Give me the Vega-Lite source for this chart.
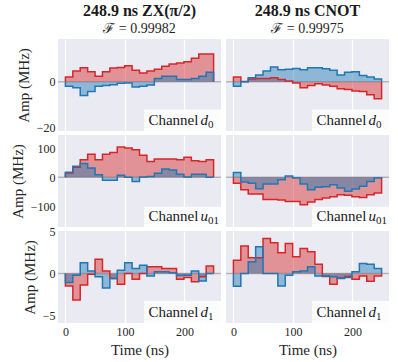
{
"$schema": "https://vega.github.io/schema/vega-lite/v6.json",
"padding": {"left": 10, "right": 5, "top": 3, "bottom": 4},
"bounds": "flush",
"columns": 2,
"spacing": {"row": 4, "column": 5},
"data": {"values": [
{"i":0,"t":0,"zd0r":0,"zd0i":0,"cd0r":0,"cd0i":0,"zur":0,"zui":0,"cur":0,"cui":0,"zd1r":0,"zd1i":0,"cd1r":0,"cd1i":0},
{"i":1,"t":0,"zd0r":2.0,"zd0i":-2.0,"cd0r":2.0,"cd0i":-2.0,"zur":15,"zui":18,"cur":-20,"cui":17,"zd1r":-1.5,"zd1i":-1.1,"cd1r":1.6,"cd1i":-1.55},
{"i":2,"t":12.45,"zd0r":4.6,"zd0i":-2.6,"cd0r":0.0,"cd0i":0.1,"zur":35,"zui":38,"cur":-43,"cui":-16,"zd1r":-3.2,"zd1i":-0.2,"cd1r":3.3,"cd1i":0.0},
{"i":3,"t":24.89,"zd0r":6.0,"zd0i":-6.0,"cd0r":1.1,"cd0i":1.7,"zur":61,"zui":48,"cur":-57,"cui":-20,"zd1r":-1.4,"zd1i":1.3,"cd1r":1.9,"cd1i":1.4},
{"i":4,"t":37.34,"zd0r":4.3,"zd0i":-4.3,"cd0r":1.4,"cd0i":2.9,"zur":80,"zui":32,"cur":-57,"cui":-39,"zd1r":-0.1,"zd1i":0.3,"cd1r":1.9,"cd1i":3.2},
{"i":5,"t":49.78,"zd0r":2.3,"zd0i":-2.0,"cd0r":1.4,"cd0i":4.6,"zur":61,"zui":9,"cur":-76,"cui":-23,"zd1r":1.7,"zd1i":-0.4,"cd1r":4.2,"cd1i":0.0},
{"i":6,"t":62.23,"zd0r":4.3,"zd0i":-1.7,"cd0r":1.7,"cd0i":6.3,"zur":80,"zui":-10,"cur":-76,"cui":-23,"zd1r":0.3,"zd1i":-1.75,"cd1r":3.7,"cd1i":0.0},
{"i":7,"t":74.67,"zd0r":5.9,"zd0i":-1.3,"cd0r":0.9,"cd0i":5.1,"zur":86,"zui":-10,"cur":-78,"cui":-8,"zd1r":-0.6,"zd1i":-0.6,"cd1r":2.5,"cd1i":-1.5},
{"i":8,"t":87.12,"zd0r":6.1,"zd0i":-0.7,"cd0r":0.3,"cd0i":5.4,"zur":105,"zui":7,"cur":-83,"cui":5,"zd1r":-1.3,"zd1i":0.4,"cd1r":3.6,"cd1i":-0.2},
{"i":9,"t":99.56,"zd0r":6.9,"zd0i":-0.6,"cd0r":-0.6,"cd0i":5.7,"zur":101,"zui":0,"cur":-83,"cui":-2,"zd1r":0.0,"zd1i":1.3,"cd1r":2.0,"cd1i":0.2},
{"i":10,"t":112.01,"zd0r":4.9,"zd0i":-2.3,"cd0r":-2.6,"cd0i":5.1,"zur":95,"zui":-14,"cur":-94,"cui":-23,"zd1r":-0.7,"zd1i":0.6,"cd1r":3.0,"cd1i":0.3},
{"i":11,"t":124.45,"zd0r":3.7,"zd0i":-2.0,"cd0r":-1.7,"cd0i":6.0,"zur":76,"zui":1,"cur":-85,"cui":-43,"zd1r":0.0,"zd1i":1.0,"cd1r":2.6,"cd1i":0.8},
{"i":12,"t":136.9,"zd0r":4.6,"zd0i":-1.4,"cd0r":-0.9,"cd0i":6.0,"zur":55,"zui":3,"cur":-76,"cui":-34,"zd1r":0.8,"zd1i":-0.3,"cd1r":1.1,"cd1i":-0.3},
{"i":13,"t":149.34,"zd0r":5.4,"zd0i":1.4,"cd0r":-1.4,"cd0i":5.6,"zur":63,"zui":14,"cur":-71,"cui":-32,"zd1r":0.8,"zd1i":0.2,"cd1r":-0.35,"cd1i":-0.3},
{"i":14,"t":161.79,"zd0r":6.6,"zd0i":2.3,"cd0r":-2.0,"cd0i":4.9,"zur":63,"zui":29,"cur":-67,"cui":-25,"zd1r":0.6,"zd1i":0.2,"cd1r":-1.3,"cd1i":-0.4},
{"i":15,"t":174.23,"zd0r":7.6,"zd0i":2.3,"cd0r":-3.1,"cd0i":2.9,"zur":63,"zui":25,"cur":-60,"cui":-37,"zd1r":0.6,"zd1i":0.1,"cd1r":-0.55,"cd1i":-0.6},
{"i":16,"t":186.68,"zd0r":8.0,"zd0i":0.9,"cd0r":-3.4,"cd0i":4.0,"zur":61,"zui":11,"cur":-62,"cui":-48,"zd1r":-0.7,"zd1i":-0.25,"cd1r":-0.35,"cd1i":-0.5},
{"i":17,"t":199.12,"zd0r":8.6,"zd0i":0.9,"cd0r":-4.0,"cd0i":4.3,"zur":69,"zui":1,"cur":-67,"cui":-40,"zd1r":-0.5,"zd1i":-0.2,"cd1r":-0.7,"cd1i":0.2},
{"i":18,"t":211.57,"zd0r":10.1,"zd0i":1.4,"cd0r":-4.3,"cd0i":2.6,"zur":57,"zui":11,"cur":-69,"cui":-31,"zd1r":-1.0,"zd1i":0.3,"cd1r":-0.3,"cd1i":1.2},
{"i":19,"t":224.01,"zd0r":11.9,"zd0i":2.3,"cd0r":-5.7,"cd0i":2.0,"zur":55,"zui":11,"cur":-60,"cui":-14,"zd1r":-0.4,"zd1i":-0.9,"cd1r":-0.95,"cd1i":1.1},
{"i":20,"t":236.46,"zd0r":11.9,"zd0i":4.0,"cd0r":-7.4,"cd0i":1.1,"zur":61,"zui":0,"cur":-54,"cui":-2,"zd1r":0.9,"zd1i":0.0,"cd1r":-0.3,"cd1i":0.6},
{"i":21,"t":248.9,"zd0r":11.9,"zd0i":4.0,"cd0r":-7.4,"cd0i":1.1,"zur":61,"zui":0,"cur":-54,"cui":-2,"zd1r":0.9,"zd1i":0.0,"cd1r":-0.3,"cd1i":0.6},
{"i":22,"t":248.9,"zd0r":0,"zd0i":0,"cd0r":0,"cd0i":0,"zur":0,"zui":0,"cur":0,"cui":0,"zd1r":0,"zd1i":0,"cd1r":0,"cd1i":0}
]},
"concat": [
{"width":163,"height":92,"title":{"text":"248.9 ns ZX(π/2)","subtitle":"ℱ = 0.99982"},"layer":[
{"transform":[{"filter":"datum.i == 0"}],"mark":{"type":"rule","color":"#b4b4b8","strokeWidth":1.5},"encoding":{"y":{"datum":0,"type":"quantitative","scale":{"domain":[-21.3,18.4],"nice":false,"zero":false},"axis":{"values":[-20,0],"title":"Amp (MHz)"}}}},
{"transform":[{"filter":"datum.i >= 1 && datum.i <= 21"}],"mark":{"type":"area","interpolate":"step-after","color":"#d62728","fillOpacity":0.45},"encoding":{"x":{"field":"t","type":"quantitative","scale":{"domain":[-12.45,261.35],"nice":false,"zero":false},"axis":{"values":[0,100,200],"labels":false,"title":null}},"y":{"field":"zd0r","type":"quantitative","stack":null},"y2":{"datum":0}}},
{"transform":[{"filter":"datum.i >= 1 && datum.i <= 21"}],"mark":{"type":"area","interpolate":"step-after","color":"#1f77b4","fillOpacity":0.45},"encoding":{"x":{"field":"t","type":"quantitative"},"y":{"field":"zd0i","type":"quantitative","stack":null},"y2":{"datum":0}}},
{"mark":{"type":"line","interpolate":"step-after","color":"#d62728","strokeWidth":1.5},"encoding":{"x":{"field":"t","type":"quantitative"},"y":{"field":"zd0r","type":"quantitative"},"order":{"field":"i"}}},
{"mark":{"type":"line","interpolate":"step-after","color":"#1f77b4","strokeWidth":1.5},"encoding":{"x":{"field":"t","type":"quantitative"},"y":{"field":"zd0i","type":"quantitative"},"order":{"field":"i"}}},
{"transform":[{"filter":"datum.i == 0"}],"mark":{"type":"rect","color":"#ffffff","opacity":0.85},"encoding":{"x":{"datum":132},"x2":{"datum":261.35},"y":{"datum":-21.3},"y2":{"datum":-12.0}}},
{"transform":[{"filter":"datum.i == 0"}],"mark":{"type":"text","text":"Channel","align":"left","baseline":"alphabetic","dy":-6,"fontSize":15,"color":"#1a1a1a"},"encoding":{"x":{"datum":139.5},"y":{"datum":-21.3}}},
{"transform":[{"filter":"datum.i == 0"}],"mark":{"type":"text","text":"d","align":"left","baseline":"alphabetic","dx":52,"dy":-6,"fontSize":15,"fontStyle":"italic","color":"#1a1a1a"},"encoding":{"x":{"datum":139.5},"y":{"datum":-21.3}}},
{"transform":[{"filter":"datum.i == 0"}],"mark":{"type":"text","text":"0","align":"left","baseline":"alphabetic","dx":59.5,"dy":-3.5,"fontSize":11,"color":"#1a1a1a"},"encoding":{"x":{"datum":139.5},"y":{"datum":-21.3}}}
]},
{"width":163,"height":92,"title":{"text":"248.9 ns CNOT","subtitle":"ℱ = 0.99975"},"layer":[
{"transform":[{"filter":"datum.i == 0"}],"mark":{"type":"rule","color":"#b4b4b8","strokeWidth":1.5},"encoding":{"y":{"datum":0,"type":"quantitative","scale":{"domain":[-21.3,18.4],"nice":false,"zero":false},"axis":{"values":[-20,0],"labels":false,"title":null}}}},
{"transform":[{"filter":"datum.i >= 1 && datum.i <= 21"}],"mark":{"type":"area","interpolate":"step-after","color":"#d62728","fillOpacity":0.45},"encoding":{"x":{"field":"t","type":"quantitative","scale":{"domain":[-12.45,261.35],"nice":false,"zero":false},"axis":{"values":[0,100,200],"labels":false,"title":null}},"y":{"field":"cd0r","type":"quantitative","stack":null},"y2":{"datum":0}}},
{"transform":[{"filter":"datum.i >= 1 && datum.i <= 21"}],"mark":{"type":"area","interpolate":"step-after","color":"#1f77b4","fillOpacity":0.45},"encoding":{"x":{"field":"t","type":"quantitative"},"y":{"field":"cd0i","type":"quantitative","stack":null},"y2":{"datum":0}}},
{"mark":{"type":"line","interpolate":"step-after","color":"#d62728","strokeWidth":1.5},"encoding":{"x":{"field":"t","type":"quantitative"},"y":{"field":"cd0r","type":"quantitative"},"order":{"field":"i"}}},
{"mark":{"type":"line","interpolate":"step-after","color":"#1f77b4","strokeWidth":1.5},"encoding":{"x":{"field":"t","type":"quantitative"},"y":{"field":"cd0i","type":"quantitative"},"order":{"field":"i"}}},
{"transform":[{"filter":"datum.i == 0"}],"mark":{"type":"rect","color":"#ffffff","opacity":0.85},"encoding":{"x":{"datum":132},"x2":{"datum":261.35},"y":{"datum":-21.3},"y2":{"datum":-12.0}}},
{"transform":[{"filter":"datum.i == 0"}],"mark":{"type":"text","text":"Channel","align":"left","baseline":"alphabetic","dy":-6,"fontSize":15,"color":"#1a1a1a"},"encoding":{"x":{"datum":139.5},"y":{"datum":-21.3}}},
{"transform":[{"filter":"datum.i == 0"}],"mark":{"type":"text","text":"d","align":"left","baseline":"alphabetic","dx":52,"dy":-6,"fontSize":15,"fontStyle":"italic","color":"#1a1a1a"},"encoding":{"x":{"datum":139.5},"y":{"datum":-21.3}}},
{"transform":[{"filter":"datum.i == 0"}],"mark":{"type":"text","text":"0","align":"left","baseline":"alphabetic","dx":59.5,"dy":-3.5,"fontSize":11,"color":"#1a1a1a"},"encoding":{"x":{"datum":139.5},"y":{"datum":-21.3}}}
]},
{"width":163,"height":92,"layer":[
{"transform":[{"filter":"datum.i == 0"}],"mark":{"type":"rule","color":"#b4b4b8","strokeWidth":1.5},"encoding":{"y":{"datum":0,"type":"quantitative","scale":{"domain":[-171,146],"nice":false,"zero":false},"axis":{"values":[-100,0,100],"title":"Amp (MHz)"}}}},
{"transform":[{"filter":"datum.i >= 1 && datum.i <= 21"}],"mark":{"type":"area","interpolate":"step-after","color":"#d62728","fillOpacity":0.45},"encoding":{"x":{"field":"t","type":"quantitative","scale":{"domain":[-12.45,261.35],"nice":false,"zero":false},"axis":{"values":[0,100,200],"labels":false,"title":null}},"y":{"field":"zur","type":"quantitative","stack":null},"y2":{"datum":0}}},
{"transform":[{"filter":"datum.i >= 1 && datum.i <= 21"}],"mark":{"type":"area","interpolate":"step-after","color":"#1f77b4","fillOpacity":0.45},"encoding":{"x":{"field":"t","type":"quantitative"},"y":{"field":"zui","type":"quantitative","stack":null},"y2":{"datum":0}}},
{"mark":{"type":"line","interpolate":"step-after","color":"#d62728","strokeWidth":1.5},"encoding":{"x":{"field":"t","type":"quantitative"},"y":{"field":"zur","type":"quantitative"},"order":{"field":"i"}}},
{"mark":{"type":"line","interpolate":"step-after","color":"#1f77b4","strokeWidth":1.5},"encoding":{"x":{"field":"t","type":"quantitative"},"y":{"field":"zui","type":"quantitative"},"order":{"field":"i"}}},
{"transform":[{"filter":"datum.i == 0"}],"mark":{"type":"rect","color":"#ffffff","opacity":0.85},"encoding":{"x":{"datum":132},"x2":{"datum":261.35},"y":{"datum":-171},"y2":{"datum":-101}}},
{"transform":[{"filter":"datum.i == 0"}],"mark":{"type":"text","text":"Channel","align":"left","baseline":"alphabetic","dy":-6,"fontSize":15,"color":"#1a1a1a"},"encoding":{"x":{"datum":139.5},"y":{"datum":-171}}},
{"transform":[{"filter":"datum.i == 0"}],"mark":{"type":"text","text":"u","align":"left","baseline":"alphabetic","dx":52,"dy":-6,"fontSize":15,"fontStyle":"italic","color":"#1a1a1a"},"encoding":{"x":{"datum":139.5},"y":{"datum":-171}}},
{"transform":[{"filter":"datum.i == 0"}],"mark":{"type":"text","text":"01","align":"left","baseline":"alphabetic","dx":59.5,"dy":-3.5,"fontSize":11,"color":"#1a1a1a"},"encoding":{"x":{"datum":139.5},"y":{"datum":-171}}}
]},
{"width":163,"height":92,"layer":[
{"transform":[{"filter":"datum.i == 0"}],"mark":{"type":"rule","color":"#b4b4b8","strokeWidth":1.5},"encoding":{"y":{"datum":0,"type":"quantitative","scale":{"domain":[-171,146],"nice":false,"zero":false},"axis":{"values":[-100,0,100],"labels":false,"title":null}}}},
{"transform":[{"filter":"datum.i >= 1 && datum.i <= 21"}],"mark":{"type":"area","interpolate":"step-after","color":"#d62728","fillOpacity":0.45},"encoding":{"x":{"field":"t","type":"quantitative","scale":{"domain":[-12.45,261.35],"nice":false,"zero":false},"axis":{"values":[0,100,200],"labels":false,"title":null}},"y":{"field":"cur","type":"quantitative","stack":null},"y2":{"datum":0}}},
{"transform":[{"filter":"datum.i >= 1 && datum.i <= 21"}],"mark":{"type":"area","interpolate":"step-after","color":"#1f77b4","fillOpacity":0.45},"encoding":{"x":{"field":"t","type":"quantitative"},"y":{"field":"cui","type":"quantitative","stack":null},"y2":{"datum":0}}},
{"mark":{"type":"line","interpolate":"step-after","color":"#d62728","strokeWidth":1.5},"encoding":{"x":{"field":"t","type":"quantitative"},"y":{"field":"cur","type":"quantitative"},"order":{"field":"i"}}},
{"mark":{"type":"line","interpolate":"step-after","color":"#1f77b4","strokeWidth":1.5},"encoding":{"x":{"field":"t","type":"quantitative"},"y":{"field":"cui","type":"quantitative"},"order":{"field":"i"}}},
{"transform":[{"filter":"datum.i == 0"}],"mark":{"type":"rect","color":"#ffffff","opacity":0.85},"encoding":{"x":{"datum":132},"x2":{"datum":261.35},"y":{"datum":-171},"y2":{"datum":-101}}},
{"transform":[{"filter":"datum.i == 0"}],"mark":{"type":"text","text":"Channel","align":"left","baseline":"alphabetic","dy":-6,"fontSize":15,"color":"#1a1a1a"},"encoding":{"x":{"datum":139.5},"y":{"datum":-171}}},
{"transform":[{"filter":"datum.i == 0"}],"mark":{"type":"text","text":"u","align":"left","baseline":"alphabetic","dx":52,"dy":-6,"fontSize":15,"fontStyle":"italic","color":"#1a1a1a"},"encoding":{"x":{"datum":139.5},"y":{"datum":-171}}},
{"transform":[{"filter":"datum.i == 0"}],"mark":{"type":"text","text":"01","align":"left","baseline":"alphabetic","dx":59.5,"dy":-3.5,"fontSize":11,"color":"#1a1a1a"},"encoding":{"x":{"datum":139.5},"y":{"datum":-171}}}
]},
{"width":163,"height":92,"layer":[
{"transform":[{"filter":"datum.i == 0"}],"mark":{"type":"rule","color":"#b4b4b8","strokeWidth":1.5},"encoding":{"y":{"datum":0,"type":"quantitative","scale":{"domain":[-5.95,5.1],"nice":false,"zero":false},"axis":{"values":[-5,0,5],"title":"Amp (MHz)"}}}},
{"transform":[{"filter":"datum.i >= 1 && datum.i <= 21"}],"mark":{"type":"area","interpolate":"step-after","color":"#d62728","fillOpacity":0.45},"encoding":{"x":{"field":"t","type":"quantitative","scale":{"domain":[-12.45,261.35],"nice":false,"zero":false},"axis":{"values":[0,100,200],"title":"Time (ns)"}},"y":{"field":"zd1r","type":"quantitative","stack":null},"y2":{"datum":0}}},
{"transform":[{"filter":"datum.i >= 1 && datum.i <= 21"}],"mark":{"type":"area","interpolate":"step-after","color":"#1f77b4","fillOpacity":0.45},"encoding":{"x":{"field":"t","type":"quantitative"},"y":{"field":"zd1i","type":"quantitative","stack":null},"y2":{"datum":0}}},
{"mark":{"type":"line","interpolate":"step-after","color":"#d62728","strokeWidth":1.5},"encoding":{"x":{"field":"t","type":"quantitative"},"y":{"field":"zd1r","type":"quantitative"},"order":{"field":"i"}}},
{"mark":{"type":"line","interpolate":"step-after","color":"#1f77b4","strokeWidth":1.5},"encoding":{"x":{"field":"t","type":"quantitative"},"y":{"field":"zd1i","type":"quantitative"},"order":{"field":"i"}}},
{"transform":[{"filter":"datum.i == 0"}],"mark":{"type":"rect","color":"#ffffff","opacity":0.85},"encoding":{"x":{"datum":132},"x2":{"datum":261.35},"y":{"datum":-5.95},"y2":{"datum":-3.3}}},
{"transform":[{"filter":"datum.i == 0"}],"mark":{"type":"text","text":"Channel","align":"left","baseline":"alphabetic","dy":-6,"fontSize":15,"color":"#1a1a1a"},"encoding":{"x":{"datum":139.5},"y":{"datum":-5.95}}},
{"transform":[{"filter":"datum.i == 0"}],"mark":{"type":"text","text":"d","align":"left","baseline":"alphabetic","dx":52,"dy":-6,"fontSize":15,"fontStyle":"italic","color":"#1a1a1a"},"encoding":{"x":{"datum":139.5},"y":{"datum":-5.95}}},
{"transform":[{"filter":"datum.i == 0"}],"mark":{"type":"text","text":"1","align":"left","baseline":"alphabetic","dx":59.5,"dy":-3.5,"fontSize":11,"color":"#1a1a1a"},"encoding":{"x":{"datum":139.5},"y":{"datum":-5.95}}}
]},
{"width":163,"height":92,"layer":[
{"transform":[{"filter":"datum.i == 0"}],"mark":{"type":"rule","color":"#b4b4b8","strokeWidth":1.5},"encoding":{"y":{"datum":0,"type":"quantitative","scale":{"domain":[-5.95,5.1],"nice":false,"zero":false},"axis":{"values":[-5,0,5],"labels":false,"title":null}}}},
{"transform":[{"filter":"datum.i >= 1 && datum.i <= 21"}],"mark":{"type":"area","interpolate":"step-after","color":"#d62728","fillOpacity":0.45},"encoding":{"x":{"field":"t","type":"quantitative","scale":{"domain":[-12.45,261.35],"nice":false,"zero":false},"axis":{"values":[0,100,200],"title":"Time (ns)"}},"y":{"field":"cd1r","type":"quantitative","stack":null},"y2":{"datum":0}}},
{"transform":[{"filter":"datum.i >= 1 && datum.i <= 21"}],"mark":{"type":"area","interpolate":"step-after","color":"#1f77b4","fillOpacity":0.45},"encoding":{"x":{"field":"t","type":"quantitative"},"y":{"field":"cd1i","type":"quantitative","stack":null},"y2":{"datum":0}}},
{"mark":{"type":"line","interpolate":"step-after","color":"#d62728","strokeWidth":1.5},"encoding":{"x":{"field":"t","type":"quantitative"},"y":{"field":"cd1r","type":"quantitative"},"order":{"field":"i"}}},
{"mark":{"type":"line","interpolate":"step-after","color":"#1f77b4","strokeWidth":1.5},"encoding":{"x":{"field":"t","type":"quantitative"},"y":{"field":"cd1i","type":"quantitative"},"order":{"field":"i"}}},
{"transform":[{"filter":"datum.i == 0"}],"mark":{"type":"rect","color":"#ffffff","opacity":0.85},"encoding":{"x":{"datum":132},"x2":{"datum":261.35},"y":{"datum":-5.95},"y2":{"datum":-3.3}}},
{"transform":[{"filter":"datum.i == 0"}],"mark":{"type":"text","text":"Channel","align":"left","baseline":"alphabetic","dy":-6,"fontSize":15,"color":"#1a1a1a"},"encoding":{"x":{"datum":139.5},"y":{"datum":-5.95}}},
{"transform":[{"filter":"datum.i == 0"}],"mark":{"type":"text","text":"d","align":"left","baseline":"alphabetic","dx":52,"dy":-6,"fontSize":15,"fontStyle":"italic","color":"#1a1a1a"},"encoding":{"x":{"datum":139.5},"y":{"datum":-5.95}}},
{"transform":[{"filter":"datum.i == 0"}],"mark":{"type":"text","text":"1","align":"left","baseline":"alphabetic","dx":59.5,"dy":-3.5,"fontSize":11,"color":"#1a1a1a"},"encoding":{"x":{"datum":139.5},"y":{"datum":-5.95}}}
]}
],
"config": {
"font": "Liberation Serif",
"view": {"fill": "#EAEAF2", "stroke": null},
"axis": {"domain": false, "ticks": false, "gridColor": "#ffffff", "gridWidth": 1.2, "labelFont": "Liberation Serif", "labelFontSize": 12, "labelColor": "#262626", "labelPadding": 3, "titleFont": "Liberation Serif", "titleFontSize": 15, "titleFontWeight": "normal", "titleColor": "#262626", "titlePadding": 5},
"title": {"font": "Liberation Serif", "fontSize": 16, "fontWeight": "bold", "color": "#1a1a1a", "subtitleFont": "Liberation Serif", "subtitleFontSize": 14, "subtitleColor": "#262626", "offset": 3, "subtitlePadding": 3, "anchor": "middle"}
}
}
